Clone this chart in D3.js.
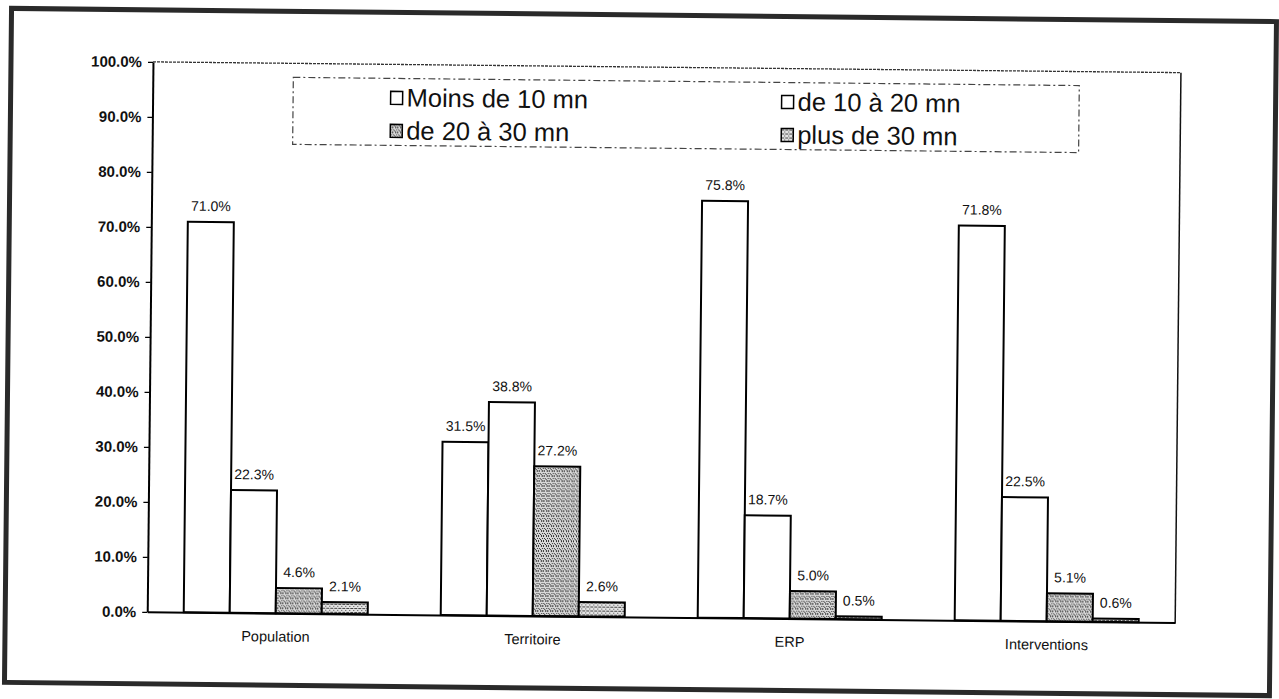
<!DOCTYPE html>
<html>
<head>
<meta charset="utf-8">
<script src="https://cdn.jsdelivr.net/npm/d3@7"></script>
<style>
	body { margin: 0; background: #fff; }
	text { font-family: "Liberation Sans", Arial, sans-serif; fill: #111; }
</style>
</head>
<body>
<svg id="chart" width="1279" height="699"></svg>
<script>
// values (percent)
const categories = ["Population", "Territoire", "ERP", "Interventions"];
const seriesNames = ["Moins de 10 mn", "de 10 à 20 mn", "de 20 à 30 mn", "plus de 30 mn"];
const moins10 = [71.0, 31.5, 75.8, 71.8];
const de10a20 = [22.3, 38.8, 18.7, 22.5];
const de20a30 = [4.6, 27.2, 5.0, 5.1];
const plus30 = [2.1, 2.6, 0.5, 0.6];
const yTicks = [0, 10, 20, 30, 40, 50, 60, 70, 80, 90, 100];

const seriesValues = [moins10, de10a20, de20a30, plus30];
const fills = ["#fff", "#fff", "url(#stipple)", "url(#hatch)"];

const svg = d3.select("#chart");
const width = +svg.attr("width");
const height = +svg.attr("height");
const margins = { top: 67, right: 101, bottom: 82, left: 150 };
const plotWidth = width - margins.left - margins.right;
const plotHeight = height - margins.top - margins.bottom;

// fill patterns for the two grey series
const defs = svg.append("defs");
const stipple = defs.append("pattern").attr("id", "stipple")
	.attr("width", 5).attr("height", 5).attr("patternUnits", "userSpaceOnUse");
stipple.append("rect").attr("width", 5).attr("height", 5).attr("fill", "#dadada");
[[0, 0], [3, 0], [1, 2], [4, 2], [2, 3], [0, 4], [3, 4]].forEach((p) => {
	stipple.append("rect").attr("x", p[0]).attr("y", p[1]).attr("width", 1).attr("height", 1).attr("fill", "#333");
});
const hatch = defs.append("pattern").attr("id", "hatch")
	.attr("width", 4).attr("height", 4).attr("patternUnits", "userSpaceOnUse");
hatch.append("rect").attr("width", 4).attr("height", 4).attr("fill", "#e4e4e4");
[[0, 0], [1, 0], [3, 0], [2, 2]].forEach((p) => {
	hatch.append("rect").attr("x", p[0]).attr("y", p[1]).attr("width", 1).attr("height", 1).attr("fill", "#444");
});

// the scan is slightly tilted
const page = svg.append("g").attr("transform", "rotate(0.6,640,350)");

page.append("rect")
	.attr("x", 8).attr("y", 15).attr("width", 1265).attr("height", 674)
	.attr("fill", "none").attr("stroke", "#2a2a2a").attr("stroke-width", 5);

const chart = page.append("g")
	.attr("transform", "translate(" + margins.left + "," + margins.top + ")");

const x0 = d3.scaleBand().domain(categories).range([0, plotWidth]);
const x1 = d3.scaleBand().domain(d3.range(seriesNames.length))
	.range([36.5, x0.bandwidth() - 36.5]);
const y = d3.scaleLinear().domain([0, 100]).range([plotHeight, 0]);

// plot area border (top + right)
chart.append("line").attr("x1", 0).attr("x2", plotWidth).attr("y1", 0).attr("y2", 0)
	.attr("stroke", "#333").attr("stroke-width", 1.3).attr("stroke-dasharray", "3,1");
chart.append("line").attr("x1", plotWidth).attr("x2", plotWidth).attr("y1", 0).attr("y2", plotHeight)
	.attr("stroke", "#111").attr("stroke-width", 1.5);

const table = [];
categories.forEach((c, i) => {
	seriesValues.forEach((vals, s) => {
		table.push({ category: c, series: s, value: vals[i] });
	});
});

chart.selectAll("rect.bar")
	.data(table)
	.join("rect")
	.attr("class", "bar")
	.attr("x", (d) => x0(d.category) + x1(d.series))
	.attr("y", (d) => y(d.value))
	.attr("width", x1.bandwidth())
	.attr("height", (d) => plotHeight - y(d.value))
	.attr("fill", (d) => fills[d.series])
	.attr("stroke", "#000")
	.attr("stroke-width", 2);

chart.selectAll("text.val")
	.data(table)
	.join("text")
	.attr("class", "val")
	.attr("x", (d) => x0(d.category) + x1(d.series) + x1.bandwidth() / 2)
	.attr("y", (d) => y(d.value) - 11)
	.attr("text-anchor", "middle")
	.attr("font-size", 14)
	.text((d) => d.value.toFixed(1) + "%");

const yAxis = chart.append("g")
	.call(d3.axisLeft(y).tickValues(yTicks).tickSize(5).tickSizeOuter(0).tickPadding(6)
		.tickFormat((d) => d.toFixed(1) + "%"));
yAxis.select(".domain").attr("stroke", "#000").attr("stroke-width", 2);
yAxis.selectAll(".tick line").attr("stroke", "#000").attr("stroke-width", 1.3);
yAxis.selectAll("text").attr("font-size", 15).attr("font-weight", "bold").attr("fill", "#111");

const xAxis = chart.append("g")
	.attr("transform", "translate(0," + plotHeight + ")")
	.call(d3.axisBottom(x0).tickSize(0).tickPadding(18));
xAxis.select(".domain").attr("stroke", "#000").attr("stroke-width", 2);
xAxis.selectAll("text").attr("font-size", 14.5).attr("fill", "#111");

// legend
const legend = page.append("g");
legend.append("rect")
	.attr("x", 290.5).attr("y", 81).attr("width", 786).attr("height", 67)
	.attr("fill", "none").attr("stroke", "#444").attr("stroke-width", 1.2)
	.attr("stroke-dasharray", "7,3,2,3");

const legendCols = [388, 779];
const legendRows = [109, 142];
seriesNames.forEach((name, s) => {
	const lx = legendCols[s % 2];
	const ly = legendRows[Math.floor(s / 2)];
	legend.append("rect")
		.attr("x", lx).attr("y", ly - 15).attr("width", 12).attr("height", 13)
		.attr("fill", fills[s]).attr("stroke", "#000").attr("stroke-width", 1.5);
	legend.append("text")
		.attr("x", lx + 16).attr("y", ly)
		.attr("font-size", 25.5)
		.text(name);
});
</script>
</body>
</html>
